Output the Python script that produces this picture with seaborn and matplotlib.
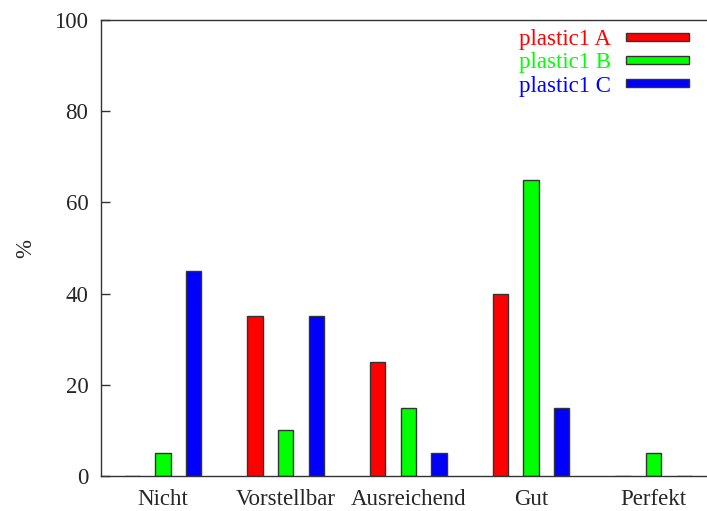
import matplotlib
matplotlib.use("Agg")
import matplotlib.pyplot as plt
import seaborn as sns
import pandas as pd

# Ratings per category for each plastic variant (in percent)
categories = ["Nicht", "Vorstellbar", "Ausreichend", "Gut", "Perfekt"]
series_names = ["plastic1 A", "plastic1 B", "plastic1 C"]
values_a = [0, 35, 25, 40, 0]
values_b = [5, 10, 15, 65, 5]
values_c = [45, 35, 5, 15, 0]
colors = ["#ff0000", "#00ff00", "#0000ff"]

rows = []
for name, vals in zip(series_names, [values_a, values_b, values_c]):
    for cat, v in zip(categories, vals):
        rows.append({"Kategorie": cat, "Serie": name, "Wert": v})
df = pd.DataFrame(rows)

sns.set_theme(style="white")
plt.rcParams["font.family"] = ["Liberation Serif", "DejaVu Serif"]

FS = 16.5
W, H = 707, 511
fig = plt.figure(figsize=(W / 100, H / 100), dpi=100)
ax = fig.add_axes([101 / W, 35 / H, (W - 101) / W, 456 / H])

sns.barplot(
    data=df, x="Kategorie", y="Wert", hue="Serie",
    order=categories, hue_order=series_names, palette=colors,
    width=0.75, gap=0.5, edgecolor="#333333", linewidth=1.0,
    saturation=1, ax=ax, legend=False,
)

ax.set_xlim(-0.505, 4.435)
ax.set_ylim(0, 100)
ax.set_yticks([0, 20, 40, 60, 80, 100])
ax.set_xlabel("")
ax.set_ylabel("%", fontsize=FS, labelpad=13)

ax.tick_params(axis="y", direction="in", length=6.5, width=1, color="#333333",
               labelsize=FS, pad=9, left=True)
ax.tick_params(axis="x", length=0, labelsize=FS, pad=9)

for side in ["left", "bottom", "top"]:
    ax.spines[side].set_color("#333333")
    ax.spines[side].set_linewidth(1.0)
ax.spines["right"].set_visible(False)

handles = [matplotlib.patches.Patch(facecolor=c, edgecolor="#333333", linewidth=1.0)
           for c in colors]
ax.legend(handles, series_names, loc="upper right",
          bbox_to_anchor=(689 / W, 1 - 29 / H), bbox_transform=fig.transFigure,
          frameon=False, markerfirst=False, fontsize=FS, labelcolor=colors,
          handlelength=2.75, handleheight=0.17, handletextpad=0.65,
          labelspacing=0.1, borderpad=0, borderaxespad=0)

fig.savefig("out.png", dpi=100)
